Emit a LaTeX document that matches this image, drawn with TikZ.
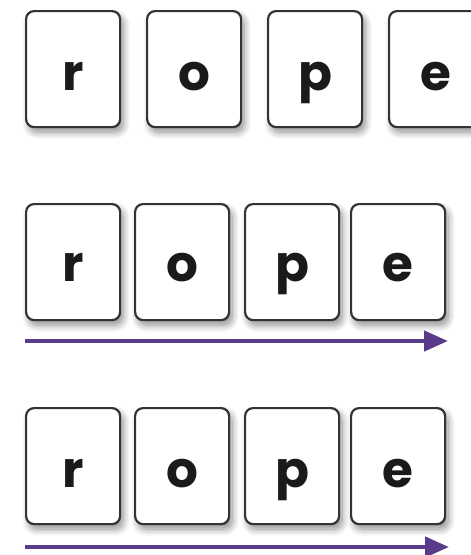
\documentclass[tikz,border=0pt]{standalone}
\usepackage{fontspec}
\newfontfamily\lettfont{Poppins}
\usetikzlibrary{arrows.meta,shadows.blur}
\definecolor{boxline}{HTML}{333333}
\definecolor{arrowpurple}{HTML}{5A3A8A}
\definecolor{lettcol}{HTML}{1A1A1A}
\tikzset{
  tile/.style={draw=boxline, line width=2.2pt, rounded corners=8pt, fill=white,
    minimum width=94pt, minimum height=116pt, inner sep=0pt, anchor=north west,
    blur shadow={shadow xshift=3pt, shadow yshift=-5pt, shadow blur steps=10, shadow opacity=45, shadow blur radius=7pt}},
  lett/.style={anchor=base, inner sep=0pt, text=lettcol, font=\lettfont\bfseries\fontsize{50}{50}\selectfont},
  timeline/.style={draw=arrowpurple, line width=4.5pt, -{Triangle[length=24pt,width=20pt]}},
}
\begin{document}
\begin{tikzpicture}[x=1pt,y=-1pt]
\useasboundingbox (0,0) rectangle (471,555);
% row 1
\foreach \n/\x/\c in {a1/25/r,b1/146/o,c1/267/p,d1/388/e}{
  \node[tile] (\n) at (\x,10) {};
  \node[lett] (\n l) at ([yshift=-80pt]\n.north) {\c};
}
% row 2
\foreach \n/\x/\c in {a2/25/r,b2/134/o,c2/244/p,d2/350/e}{
  \node[tile] (\n) at (\x,203) {};
  \node[lett] (\n l) at ([yshift=-78pt]\n.north) {\c};
}
\coordinate (s2) at (25,341);
\coordinate (e2) at (448,341);
\draw[timeline] (s2) -- (e2);
% row 3
\foreach \n/\x/\c in {a3/25/r,b3/134/o,c3/244/p,d3/350/e}{
  \node[tile] (\n) at (\x,407) {};
  \node[lett] (\n l) at ([yshift=-80pt]\n.north) {\c};
}
\coordinate (s3) at (25,547);
\coordinate (e3) at (449,547);
\draw[timeline] (s3) -- (e3);
\end{tikzpicture}
\end{document}
